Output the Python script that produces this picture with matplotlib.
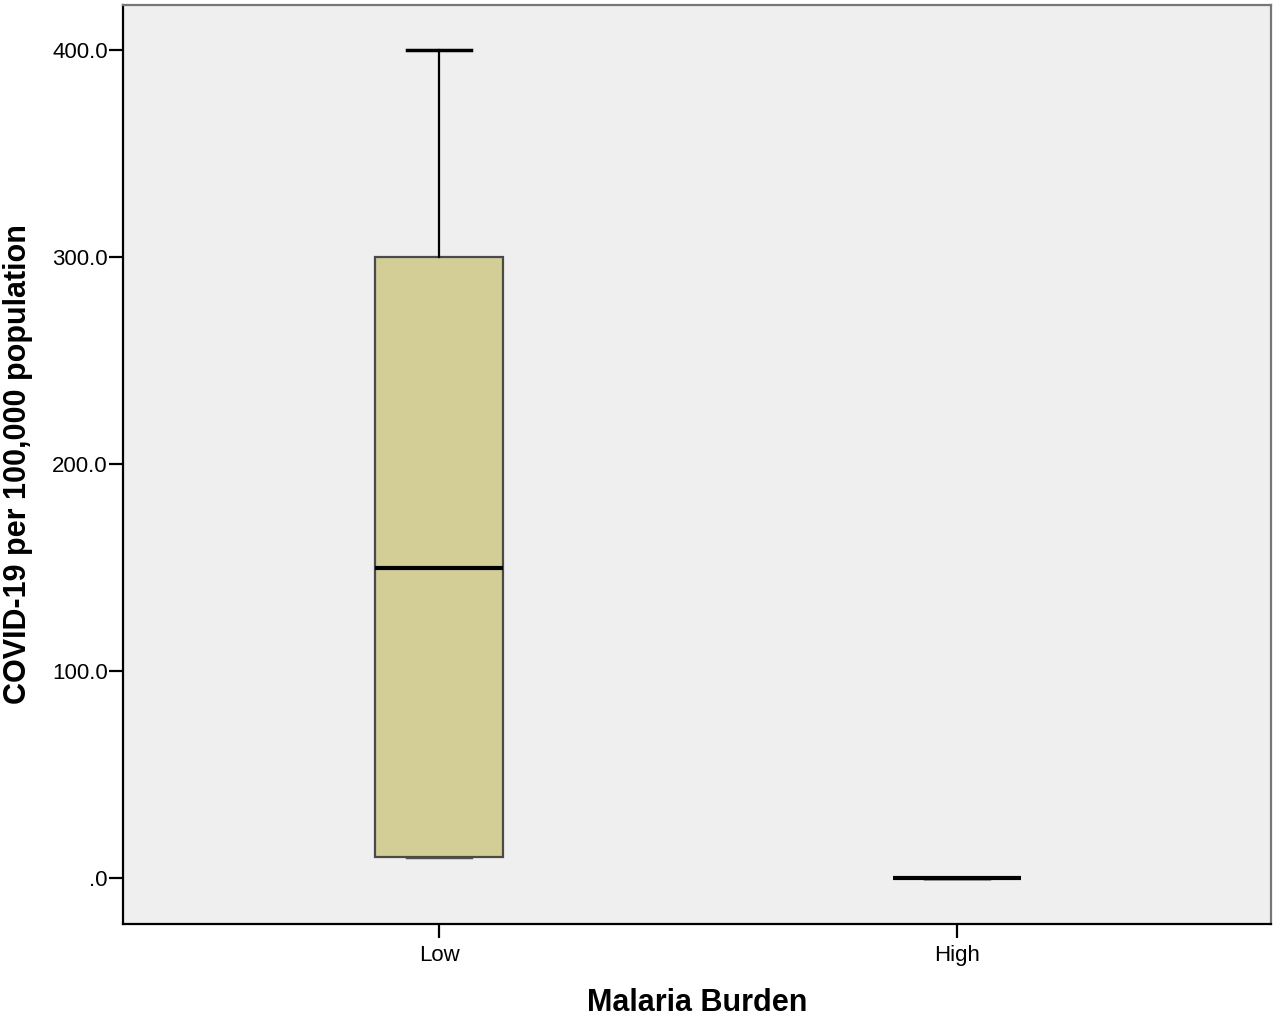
import matplotlib
matplotlib.use("Agg")
import matplotlib.pyplot as plt

# box plot summary
groups = ["Low", "High"]
whisker_low = [10.0, 0.0]
q1 = [10.0, 0.0]
median = [150.0, 0.0]
q3 = [300.0, 0.0]
whisker_high = [400.0, 0.0]

yticks = [0, 100, 200, 300, 400]
ytick_labels = [".0", "100.0", "200.0", "300.0", "400.0"]

plt.rcParams["font.family"] = ["Liberation Sans", "DejaVu Sans"]

stats = []
for i, g in enumerate(groups):
    stats.append({"label": g, "whislo": whisker_low[i], "q1": q1[i], "med": median[i],
                  "q3": q3[i], "whishi": whisker_high[i], "fliers": []})

fig = plt.figure(figsize=(12.8, 10.18), dpi=100)
ax = fig.add_axes([0.0961, 0.0923, 0.8969, 0.9028])
ax.set_facecolor("#efefef")

bp = ax.bxp(stats, positions=[1, 2], widths=0.247, patch_artist=True, showfliers=False,
            boxprops=dict(facecolor="#d3ce96", edgecolor="#4a4a4a", linewidth=1.6),
            medianprops=dict(color="black", linewidth=3, zorder=4),
            whiskerprops=dict(color="black", linewidth=1.6),
            capprops=dict(color="black", linewidth=2.5),
            capwidths=0.124)
# lower caps sit behind the box edge in a grey tone
for c in bp["caps"][0::2]:
    c.set_color("#555555")
    c.set_zorder(1.5)

ax.set_xlim(0.39, 2.606)
ax.set_ylim(-22.2, 421.7)
ax.set_yticks(yticks)
ax.set_yticklabels(ytick_labels)
ax.tick_params(axis="y", length=10, width=1.6, labelsize=16, colors="black", pad=1)
ax.tick_params(axis="x", length=10, width=1.6, labelsize=16, pad=5)

for s in ["left", "bottom"]:
    ax.spines[s].set_color("black")
    ax.spines[s].set_linewidth(1.6)
for s in ["top", "right"]:
    ax.spines[s].set_color("#777777")
    ax.spines[s].set_linewidth(1.6)

ax.set_xlabel("Malaria Burden", fontsize=22, fontweight="bold", labelpad=16)
ax.set_ylabel("COVID-19 per 100,000 population", fontsize=22, fontweight="bold", labelpad=14)

fig.savefig("out.png", dpi=100, facecolor="white")
